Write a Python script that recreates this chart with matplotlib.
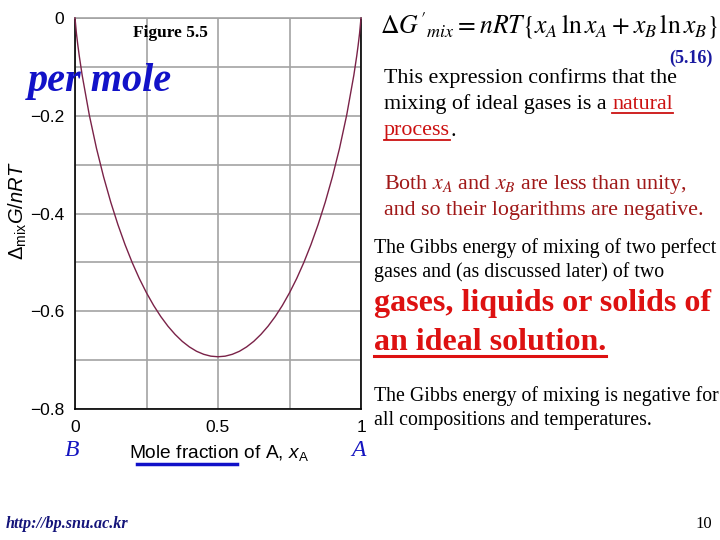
import matplotlib
matplotlib.use('Agg')
import matplotlib.pyplot as plt
from matplotlib.lines import Line2D
from matplotlib.font_manager import FontProperties

# ---------------- data ----------------
x_frac = [0.0, 0.005, 0.01, 0.015, 0.025, 0.05, 0.075, 0.1, 0.125, 0.15, 0.175,
          0.2, 0.225, 0.25, 0.275, 0.3, 0.325, 0.35, 0.375, 0.4, 0.425, 0.45,
          0.475, 0.5, 0.525, 0.55, 0.575, 0.6, 0.625, 0.65, 0.675, 0.7, 0.725,
          0.75, 0.775, 0.8, 0.825, 0.85, 0.875, 0.9, 0.925, 0.95, 0.975,
          0.985, 0.99, 0.995, 1.0]
g_mix = [0.0, -0.0315, -0.0560, -0.0779, -0.1169, -0.1985, -0.2664, -0.3251,
         -0.3768, -0.4227, -0.4637, -0.5004, -0.5332, -0.5623, -0.5882, -0.6109,
         -0.6306, -0.6474, -0.6616, -0.6730, -0.6819, -0.6881, -0.6919, -0.6931,
         -0.6919, -0.6881, -0.6819, -0.6730, -0.6616, -0.6474, -0.6306, -0.6109,
         -0.5882, -0.5623, -0.5332, -0.5004, -0.4637, -0.4227, -0.3768, -0.3251,
         -0.2664, -0.1985, -0.1169, -0.0779, -0.0560, -0.0315, 0.0]
x_ticks = [0.0, 0.25, 0.5, 0.75, 1.0]
x_tick_labels = ['0', '', '0.5', '', '1']
y_ticks = [0.0, -0.1, -0.2, -0.3, -0.4, -0.5, -0.6, -0.7, -0.8]
y_tick_labels = ['0', '', '\u22120.2', '', '\u22120.4', '', '\u22120.6', '', '\u22120.8']

# ---------------- style ----------------
plt.rcParams['font.family'] = ['Liberation Sans', 'DejaVu Sans']
plt.rcParams['mathtext.fontset'] = 'custom'
plt.rcParams['mathtext.rm'] = 'Liberation Sans'
plt.rcParams['mathtext.it'] = 'Liberation Sans:italic'
plt.rcParams['mathtext.bf'] = 'Liberation Sans:bold'

W, H = 720, 540
fig = plt.figure(figsize=(7.2, 5.4), dpi=100)
fig.patch.set_facecolor('white')


def P(x, y):
    return x / W, 1 - y / H


SERIF = ['Liberation Serif', 'DejaVu Serif']

# ---------------- axes ----------------
ax = fig.add_axes([75 / W, 1 - 409 / H, 286 / W, 391 / H])
ax.plot(x_frac, g_mix, color='#7a2248', lw=1.0, clip_on=False, zorder=3)
ax.set_xlim(0, 1)
ax.set_ylim(-0.8, 0)
ax.set_xticks(x_ticks)
ax.set_xticklabels(x_tick_labels)
ax.set_yticks(y_ticks)
ax.set_yticklabels(y_tick_labels)
ax.tick_params(length=0, labelsize=12.5, colors='black')
ax.tick_params(axis='y', pad=8)
ax.tick_params(axis='x', pad=8)
ax.grid(True, color='#a3a3a3', lw=1.2)
ax.set_axisbelow(True)
for s in ['left', 'bottom', 'right']:
    ax.spines[s].set_color('black')
    ax.spines[s].set_linewidth(1.2)
ax.spines['top'].set_color('#a3a3a3')
ax.spines['top'].set_linewidth(1.2)

# axis labels
fig.text(*P(219, 453), 'Mole fraction of A, $x_\\mathrm{A}$', ha='center', va='center',
         fontsize=13.8, color='black')
fig.add_artist(Line2D([137 / W, 237 / W], [1 - 464 / H, 1 - 464 / H], color='#1010c8', lw=2.5))
fig.text(*P(18, 211), '$\\Delta_{\\mathrm{mix}}\\mathit{G/nRT}$', rotation=90,
         ha='center', va='center', fontsize=14.5, color='black')

# B / A labels
fig.text(*P(72, 450), 'B', family=SERIF, style='italic', fontsize=17, color='#1414c0',
         ha='center', va='center')
fig.text(*P(358, 450), 'A', family=SERIF, style='italic', fontsize=17, color='#1414c0',
         ha='center', va='center')

# overlay annotations on plot
fig.text(*P(170, 33), 'Figure 5.5', family=SERIF, weight='bold', fontsize=12.5,
         ha='center', va='center', color='black')
fig.text(*P(100, 81), 'per mole', family=SERIF, weight='bold', style='italic', fontsize=29,
         ha='center', va='center', color='#1212c8')

# ---------------- right-hand text ----------------
fig.text(*P(380, 26), "$\\Delta G'_{mix} = nRT\\{x_A\\,\\ln x_A + x_B\\,\\ln x_B\\}$",
         math_fontfamily='stix', fontsize=18.5, ha='left', va='center', color='black')
fig.text(*P(713, 58), '(5.16)', family=SERIF, weight='bold', fontsize=13, ha='right',
         va='center', color='#1a1aa0')

renderer = fig.canvas.get_renderer()


def adv(s, fp):
    ismath = '$' in s
    w1 = renderer.get_text_width_height_descent(s + '|', fp, ismath=ismath)[0]
    w2 = renderer.get_text_width_height_descent('|', fp, ismath=False)[0]
    return w1 - w2


def run(x, y, pieces, size, weight='normal', ul_off=9, ul_lw=1.3):
    """pieces: list of (text, color, underline)"""
    fp = FontProperties(family=SERIF, size=size, weight=weight)
    fp.set_math_fontfamily('stix')
    cx = x
    for s, color, ul in pieces:
        fig.text(*P(cx, y), s, fontproperties=fp, color=color, ha='left', va='center')
        w = adv(s, fp)
        if ul:
            wt = adv(s.rstrip(), fp)
            fig.add_artist(Line2D([cx / W, (cx + wt) / W], [1 - (y + ul_off) / H] * 2,
                                  color=color, lw=ul_lw))
        cx += w


RED = '#cc1111'
DRED = '#a01818'
run(384, 78, [('This expression confirms that the', 'black', False)], 15.8)
run(384, 104, [('mixing of ideal gases is a ', 'black', False), ('natural', RED, True)], 15.8)
run(384, 131, [('process', RED, True), ('.', 'black', False)], 15.8)
run(384, 184, [('Both $x_A$ and $x_B$ are less than unity,', DRED, False)], 15.8)
run(384, 210, [('and so their logarithms are negative.', DRED, False)], 15.8)

run(374, 248, [('The Gibbs energy of mixing of two perfect', 'black', False)], 14.3)
run(374, 272, [('gases and (as discussed later) of two', 'black', False)], 14.3)
run(374, 304, [('gases, liquids or solids of', '#dd1111', False)], 23, weight='bold')
run(374, 343, [('an ideal solution.', '#dd1111', True)], 23, weight='bold', ul_off=13, ul_lw=2.2)
run(374, 396, [('The Gibbs energy of mixing is negative for', 'black', False)], 14.3)
run(374, 420, [('all compositions and temperatures.', 'black', False)], 14.3)

# footer
fig.text(*P(6, 524), 'http://bp.snu.ac.kr', family=SERIF, weight='bold', style='italic',
         fontsize=11.6, color='#14147a', ha='left', va='center')
fig.text(*P(712, 524), '10', family=SERIF, fontsize=12, color='black', ha='right', va='center')

fig.savefig('out.png', dpi=100, facecolor='white')
